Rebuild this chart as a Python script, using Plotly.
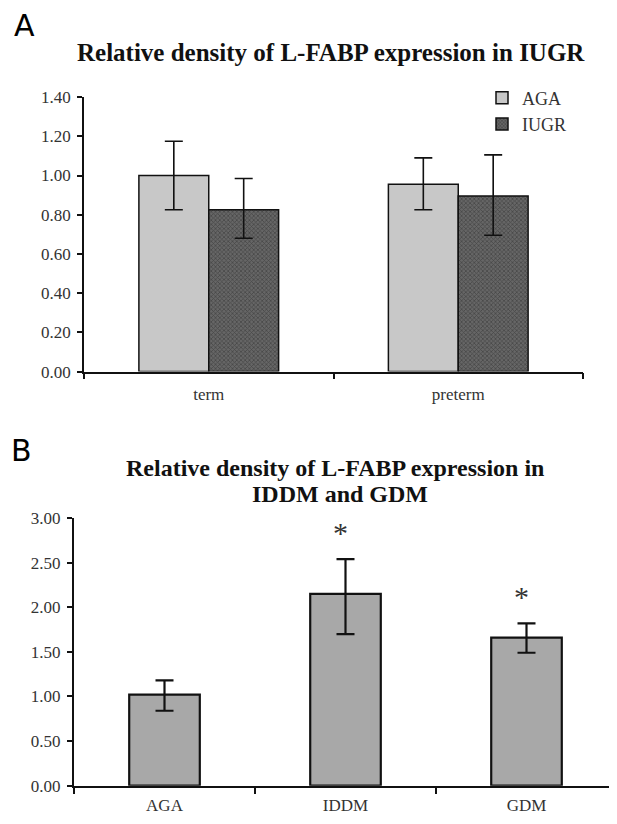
import plotly.graph_objects as go

# Page has an 8px body margin; the figure fills the rest of the 617x824 window.
OFF = 8
W, H = 617 - OFF, 824 - OFF

# Panel A data
a_categories = ["term", "preterm"]
a_aga = [1.00, 0.955]
a_aga_err_plus = [0.175, 0.135]
a_aga_err_minus = [0.175, 0.13]
a_iugr = [0.825, 0.895]
a_iugr_err_plus = [0.16, 0.21]
a_iugr_err_minus = [0.145, 0.20]
a_ticks = [0.0, 0.2, 0.4, 0.6, 0.8, 1.0, 1.2, 1.4]

# Panel B data
b_categories = ["AGA", "IDDM", "GDM"]
b_values = [1.02, 2.15, 1.66]
b_err_plus = [0.16, 0.39, 0.16]
b_err_minus = [0.18, 0.45, 0.17]
b_significant = [False, True, True]
b_ticks = [0.0, 0.5, 1.0, 1.5, 2.0, 2.5, 3.0]

SERIF = "Liberation Serif, Times New Roman, serif"
SANS = "DejaVu Sans, Arial, sans-serif"
TXT = "#333333"


def px_x(p):
    return (p - OFF) / W


def px_y(p):
    return 1 - (p - OFF) / H


fig = go.Figure()

fig.add_trace(go.Bar(
    x=a_categories, y=a_aga, name="AGA",
    marker=dict(color="#c8c8c8", line=dict(color="#111111", width=1.5)),
    error_y=dict(type="data", symmetric=False, array=a_aga_err_plus,
                 arrayminus=a_aga_err_minus, color="#111111", thickness=1.6, width=9),
    xaxis="x", yaxis="y", legendgroup="g1",
))
fig.add_trace(go.Bar(
    x=a_categories, y=a_iugr, name="IUGR",
    marker=dict(color="#4e4e4e", line=dict(color="#111111", width=1.5),
                pattern=dict(shape="x", fgcolor="#262626", bgcolor="#666666",
                             size=3, solidity=0.45)),
    error_y=dict(type="data", symmetric=False, array=a_iugr_err_plus,
                 arrayminus=a_iugr_err_minus, color="#111111", thickness=1.6, width=9),
    xaxis="x", yaxis="y", legendgroup="g2",
))

fig.add_trace(go.Bar(
    x=b_categories, y=b_values, showlegend=False,
    marker=dict(color="#a8a8a8", line=dict(color="#111111", width=2.2)),
    error_y=dict(type="data", symmetric=False, array=b_err_plus,
                 arrayminus=b_err_minus, color="#111111", thickness=2.2, width=9),
    xaxis="x2", yaxis="y2", width=0.39,
))

annotations = [
    dict(text="A", x=px_x(12), y=px_y(17), xref="paper", yref="paper",
         xanchor="left", yanchor="middle", showarrow=False,
         font=dict(family=SANS, size=30, color="#000000")),
    dict(text="B", x=px_x(9), y=px_y(452), xref="paper", yref="paper",
         xanchor="left", yanchor="middle", showarrow=False,
         font=dict(family=SANS, size=30, color="#000000")),
    dict(text="<b>Relative density of L-FABP expression in IUGR</b>",
         x=px_x(331), y=px_y(44), xref="paper", yref="paper",
         xanchor="center", yanchor="middle", showarrow=False,
         font=dict(family=SERIF, size=25, color="#111111")),
    dict(text="<b>Relative density of L-FABP expression in</b>",
         x=px_x(335), y=px_y(470), xref="paper", yref="paper",
         xanchor="center", yanchor="middle", showarrow=False,
         font=dict(family=SERIF, size=24, color="#111111")),
    dict(text="<b>IDDM and GDM</b>",
         x=px_x(340), y=px_y(496), xref="paper", yref="paper",
         xanchor="center", yanchor="middle", showarrow=False,
         font=dict(family=SERIF, size=24, color="#111111")),
]

for cat, v, ep, sig in zip(b_categories, b_values, b_err_plus, b_significant):
    if sig:
        annotations.append(dict(
            text="*", x=cat, y=v + ep + 0.30, xref="x2", yref="y2",
            showarrow=False, xshift=-5, yanchor="middle",
            font=dict(family=SERIF, size=30, color=TXT)))

axis_common = dict(
    showline=True, linecolor="#111111", showgrid=False, zeroline=False,
    ticks="outside", tickcolor="#111111", ticklen=5,
    tickfont=dict(family=SERIF, size=17, color=TXT),
)

fig.update_layout(
    width=W, height=H,
    margin=dict(l=0, r=0, t=0, b=0),
    paper_bgcolor="white", plot_bgcolor="white",
    barmode="group", bargap=0.44, bargroupgap=0.0,
    showlegend=True,
    legend=dict(x=px_x(482), y=px_y(72), xanchor="left", yanchor="top",
                bgcolor="rgba(0,0,0,0)", traceorder="grouped", tracegroupgap=0,
                font=dict(family=SERIF, size=18, color=TXT)),
    xaxis=dict(axis_common, domain=[px_x(84), px_x(583)], anchor="y",
               tickson="boundaries", linewidth=1.8, ticklen=6, tickwidth=1.8,
               ticklabelstandoff=6),
    yaxis=dict(axis_common, domain=[px_y(371), px_y(90)], anchor="x",
               range=[0, 1.4], tickvals=a_ticks, tickformat=".2f",
               linewidth=1.8, tickwidth=1.8, ticklabelstandoff=3),
    xaxis2=dict(axis_common, domain=[px_x(74), 1.0], anchor="y2",
                tickson="boundaries", linewidth=2.4, ticklen=6, tickwidth=2.2,
                ticklabelstandoff=3),
    yaxis2=dict(axis_common, domain=[px_y(795), px_y(521)], anchor="x2",
                range=[0, 3.0], tickvals=b_ticks, tickformat=".2f",
                linewidth=2.4, tickwidth=2.2, ticklabelstandoff=3),
    annotations=annotations,
)

fig.write_html("out.html")
